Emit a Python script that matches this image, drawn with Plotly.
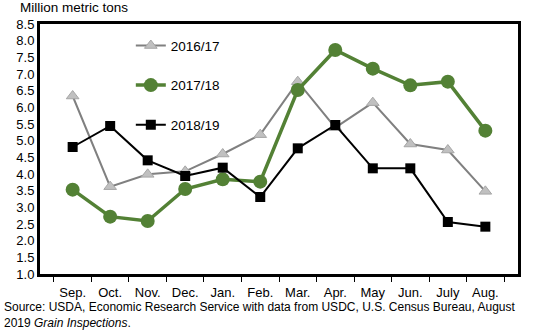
import plotly.graph_objects as go

months = ["Sep.", "Oct.", "Nov.", "Dec.", "Jan.", "Feb.", "Mar.", "Apr.", "May", "Jun.", "July", "Aug."]
y2016_17 = [6.34, 3.62, 3.99, 4.08, 4.6, 5.18, 6.77, 5.39, 6.14, 4.9, 4.72, 3.48]
y2017_18 = [3.53, 2.72, 2.59, 3.55, 3.84, 3.77, 6.52, 7.72, 7.16, 6.66, 6.77, 5.3]
y2018_19 = [4.81, 5.44, 4.41, 3.94, 4.19, 3.31, 4.77, 5.47, 4.17, 4.17, 2.56, 2.42]

FONT = "Liberation Sans, Arial, sans-serif"

fig = go.Figure()
fig.add_trace(go.Scatter(
    x=months, y=y2016_17, name="2016/17", mode="lines+markers", legendgroup="a",
    line=dict(color="#808080", width=2),
    marker=dict(symbol="triangle-up", size=11, color="#c0c0c0", line=dict(color="#a6a6a6", width=1))))
fig.add_trace(go.Scatter(
    x=months, y=y2017_18, name="2017/18", mode="lines+markers", legendgroup="b",
    line=dict(color="#538135", width=3.5),
    marker=dict(symbol="circle", size=14, color="#538135")))
fig.add_trace(go.Scatter(
    x=months, y=y2018_19, name="2018/19", mode="lines+markers", legendgroup="c",
    line=dict(color="#000000", width=2),
    marker=dict(symbol="square", size=10, color="#000000")))

fig.update_layout(
    width=533, height=335,
    margin=dict(l=40, r=15, t=24, b=61),
    paper_bgcolor="white", plot_bgcolor="white",
    font=dict(family=FONT, size=13, color="black"),
    showlegend=True,
    legend=dict(x=0.19, y=0.975, xanchor="left", yanchor="top",
                bgcolor="rgba(0,0,0,0)", tracegroupgap=19,
                font=dict(family=FONT, size=13.5, color="black")),
    xaxis=dict(type="category", showline=True, linecolor="black", linewidth=3, mirror=True,
               ticks="outside", tickson="boundaries", ticklen=5, tickcolor="black", tickwidth=1,
               showgrid=False, tickfont=dict(size=13), ticklabelstandoff=4),
    yaxis=dict(range=[1.0, 8.5], dtick=0.5, tick0=1.0, tickformat=".1f",
               showline=True, linecolor="black", linewidth=3, mirror=True,
               ticks="", showgrid=False, zeroline=False, tickfont=dict(size=13)),
)

fig.add_annotation(text="Million metric tons", xref="paper", yref="paper",
                   x=-0.046, y=1.066, xanchor="left", yanchor="middle", showarrow=False,
                   font=dict(family=FONT, size=13.5, color="black"))
fig.add_annotation(text="Source: USDA, Economic Research Service with data from USDC, U.S. Census Bureau, August<br>2019 <i>Grain Inspections</i>.",
                   xref="paper", yref="paper", x=-0.0795, y=-0.094, xanchor="left", yanchor="top",
                   align="left", showarrow=False,
                   font=dict(family=FONT, size=12, color="black"))

fig.write_html("out.html")
